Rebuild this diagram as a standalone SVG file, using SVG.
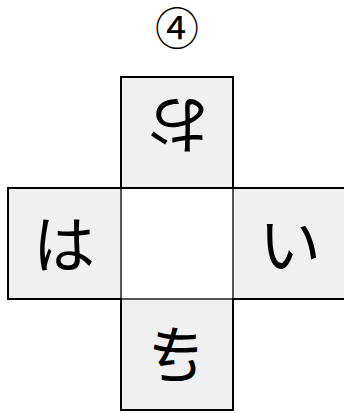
<svg xmlns="http://www.w3.org/2000/svg" width="344" height="414" viewBox="0 0 344 414">
<style>
.face{fill:#f0f0f0;stroke:#000;stroke-width:2}
.inner{stroke:#aaa;stroke-width:1;fill:none}
.ch{font-family:"Noto Sans CJK JP","Noto Sans",sans-serif;font-size:62px;fill:#000;text-anchor:middle;dominant-baseline:central}
</style>
<rect width="344" height="414" fill="#fff"/>
<text x="177" y="45" font-family="'Noto Sans CJK JP',sans-serif" font-size="44" text-anchor="middle">④</text>
<g id="center"><rect x="121" y="188" width="112" height="111" fill="#fff"/></g>
<g id="left">
<rect class="face" x="8" y="188" width="113" height="111"/>
<line class="inner" x1="121" y1="189" x2="121" y2="298"/>
<text class="ch" transform="translate(64,241)">は</text>
</g>
<g id="right">
<rect class="face" x="233" y="188" width="114" height="111"/>
<line class="inner" x1="233" y1="189" x2="233" y2="298"/>
<text class="ch" transform="translate(290,241)">い</text>
</g>
<g id="bottom">
<rect class="face" x="121" y="299" width="112" height="111"/>
<line class="inner" x1="122" y1="299" x2="232" y2="299"/>
<text class="ch" transform="translate(176,351) scale(-1,1)">き</text>
</g>
<g id="top">
<rect class="face" x="121" y="77" width="112" height="111"/>
<text class="ch" transform="translate(179,128) rotate(180)">お</text>
</g>
</svg>
